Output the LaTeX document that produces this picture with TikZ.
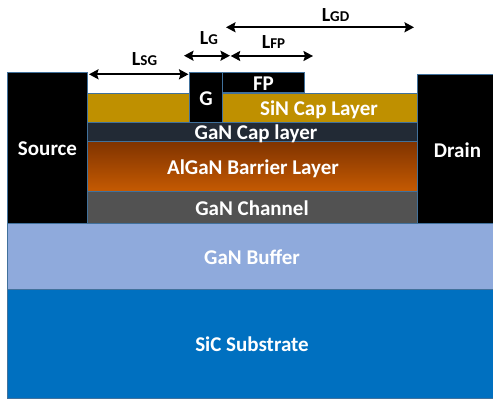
\documentclass[tikz,border=0pt]{standalone}
\usepackage{fontspec}
\setmainfont{Carlito}
\usetikzlibrary{arrows.meta}
\definecolor{edgeb}{HTML}{41719C}
\definecolor{sinc}{HTML}{BF9000}
\definecolor{gancap}{HTML}{222A35}
\definecolor{algtop}{HTML}{7F3300}
\definecolor{algbot}{HTML}{C55A02}
\definecolor{chan}{HTML}{525252}
\definecolor{buf}{HTML}{8FAADC}
\definecolor{subs}{HTML}{0070C0}
\tikzset{
 x=1pt,y=-1pt,
 layer/.style={draw=edgeb,line width=0.8pt},
 lab/.style={text=white,font=\bfseries\fontsize{21}{22}\selectfont,inner sep=0pt,text height=15pt,text depth=0pt},
 dim/.style={text=black,font=\bfseries,inner sep=0pt,text height=13pt,text depth=0pt},
 dimarrow/.style={draw=black,line width=1.8pt,{Stealth[length=9.5pt,width=10pt,inset=1.5pt]}-{Stealth[length=9.5pt,width=10pt,inset=1.5pt]}},
}
\newcommand{\dimtext}[2]{{\fontsize{20}{20}\selectfont #1}{\fontsize{15}{15}\selectfont #2}}
\begin{document}
\begin{tikzpicture}
\useasboundingbox (0,0) rectangle (493,399);
\fill[white] (0,0) rectangle (493,399);
\draw[layer,fill=subs] (7.5,289) rectangle (493,398);
\draw[layer,fill=buf] (7.5,223) rectangle (493,289);
\draw[layer,fill=chan] (87.5,191) rectangle (417,223);
\draw[layer,top color=algtop,bottom color=algbot] (87.5,141) rectangle (417,191);
\draw[layer,fill=gancap] (87.5,122) rectangle (417,141);
\draw[layer,fill=sinc] (87.5,93) rectangle (417,122);
\draw[layer,fill=black] (7.5,72) rectangle (87.5,223);
\draw[layer,fill=black] (417,74.5) rectangle (493,223);
\draw[layer,fill=black] (189.5,72) rectangle (222.5,122);
\draw[layer,fill=black] (222.5,72) rectangle (304.5,92.5);
\node[lab] (source) at (47.5,148) {Source};
\node[lab] (drain) at (457.5,149.5) {Drain};
\node[lab] (gate) at (206,98) {G};
\node[lab] (fp) at (263.5,83) {FP};
\node[lab] (sin) at (319,108) {SiN Cap Layer};
\node[lab] (gcap) at (256,132) {GaN Cap layer};
\node[lab] (alg) at (253,167) {AlGaN Barrier Layer};
\node[lab] (chn) at (252,208) {GaN Channel};
\node[lab] (bufl) at (252,257) {GaN Buffer};
\node[lab] (subl) at (252,344) {SiC Substrate};
\coordinate (a1) at (89,74.3); \coordinate (a2) at (188.5,74.3);
\coordinate (b1) at (184,55.7); \coordinate (b2) at (230,55.7);
\coordinate (c1) at (230.7,56) ; \coordinate (c2) at (313,56);
\coordinate (d1) at (226,27.3); \coordinate (d2) at (414,27.3);
\draw[dimarrow] (a1) -- (a2);
\draw[dimarrow] (b1) -- (b2);
\draw[dimarrow] (c1) -- (c2);
\draw[dimarrow] (d1) -- (d2);
\node[dim] (lsg) at (144.5,59) {\dimtext{L}{SG}};
\node[dim] (lg) at (209,38) {\dimtext{L}{G}};
\node[dim] (lfp) at (273.5,41.7) {\dimtext{L}{FP}};
\node[dim] (lgd) at (335.5,15) {\dimtext{L}{GD}};
\end{tikzpicture}
\end{document}
